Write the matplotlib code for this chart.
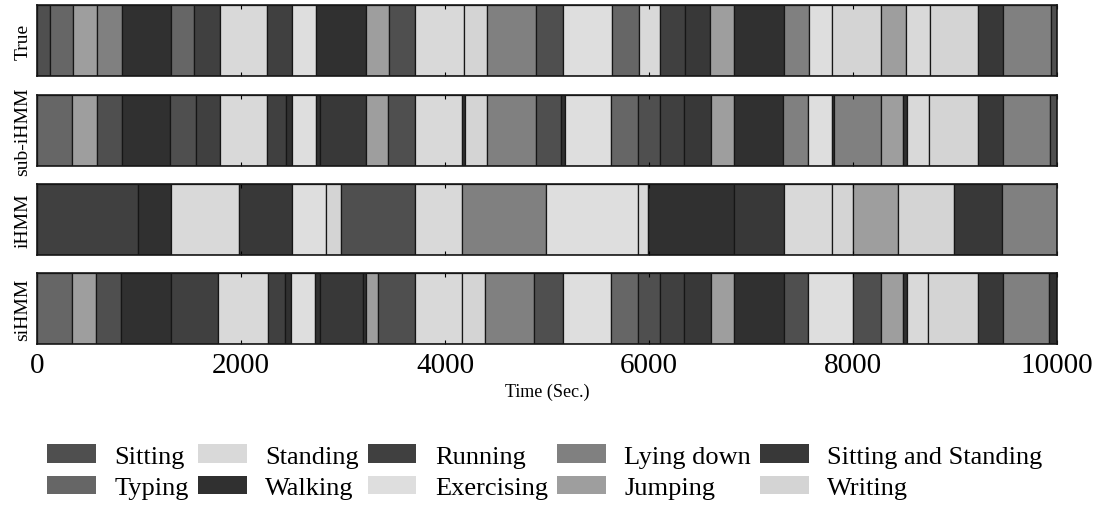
import matplotlib
matplotlib.use("Agg")
import matplotlib.pyplot as plt
from matplotlib.patches import Patch

# activity classes (legend order, column-major as matplotlib fills it)
activities = ["Sitting", "Typing", "Standing", "Walking", "Running",
              "Exercising", "Lying down", "Jumping",
              "Sitting and Standing", "Writing"]
grays = [0.31, 0.40, 0.85, 0.19, 0.25, 0.87, 0.50, 0.62, 0.22, 0.83]

rows = ["True", "sub-iHMM", "iHMM", "siHMM"]

# segment boundaries (s) and the activity held in each segment
true_edges = [0, 123, 353, 586, 832, 1312, 1538, 1791, 2253, 2497, 2736, 3229,
              3452, 3702, 4182, 4411, 4890, 5159, 5637, 5903, 6111, 6353, 6602,
              6830, 7322, 7564, 7792, 8273, 8516, 8758, 9225, 9467, 9941, 10000]
true_labels = ["Sitting", "Typing", "Jumping", "Lying down", "Walking", "Typing",
               "Running", "Standing", "Running", "Exercising", "Walking", "Jumping",
               "Sitting", "Standing", "Writing", "Lying down", "Sitting",
               "Exercising", "Typing", "Standing", "Running",
               "Sitting and Standing", "Jumping", "Walking", "Lying down",
               "Exercising", "Writing", "Jumping", "Standing", "Writing",
               "Sitting and Standing", "Lying down", "Sitting"]

sub_edges = [0, 346, 586, 832, 1301, 1558, 1791, 2253, 2442, 2497, 2736, 2777,
             3229, 3442, 3702, 4171, 4195, 4411, 4890, 5142, 5176, 5626, 5896,
             6111, 6346, 6609, 6830, 7315, 7557, 7792, 7817, 8273, 8491, 8526,
             8747, 9225, 9467, 9934, 10000]
sub_labels = ["Typing", "Jumping", "Sitting", "Walking", "Sitting", "Running",
              "Standing", "Running", "Walking", "Exercising", "Walking",
              "Sitting and Standing", "Jumping", "Sitting", "Standing", "Walking",
              "Writing", "Lying down", "Sitting", "Walking", "Exercising",
              "Typing", "Sitting", "Running", "Sitting and Standing", "Jumping",
              "Walking", "Lying down", "Exercising", "Walking", "Lying down",
              "Jumping", "Walking", "Standing", "Writing",
              "Sitting and Standing", "Lying down", "Sitting"]

ihmm_edges = [0, 986, 1312, 1983, 2497, 2836, 2979, 3702, 4171, 4993, 5896,
              5990, 6837, 7322, 7792, 7997, 8440, 8990, 9460, 10000]
ihmm_labels = ["Running", "Walking", "Standing", "Sitting and Standing",
               "Exercising", "Writing", "Sitting", "Standing", "Lying down",
               "Exercising", "Standing", "Walking", "Sitting and Standing",
               "Standing", "Writing", "Jumping", "Writing",
               "Sitting and Standing", "Lying down"]

sihmm_edges = [0, 346, 575, 825, 1312, 1774, 2264, 2435, 2486, 2726, 2774, 3195,
               3229, 3342, 3702, 4171, 4394, 4873, 5159, 5626, 5896, 6104, 6346,
               6612, 6830, 7322, 7557, 7997, 8273, 8491, 8526, 8740, 9225, 9467,
               9917, 10000]
sihmm_labels = ["Typing", "Jumping", "Sitting", "Walking", "Running", "Standing",
                "Running", "Walking", "Exercising", "Walking",
                "Sitting and Standing", "Walking", "Jumping", "Sitting",
                "Standing", "Writing", "Lying down", "Sitting", "Exercising",
                "Typing", "Sitting", "Running", "Sitting and Standing", "Jumping",
                "Walking", "Sitting", "Exercising", "Sitting", "Jumping",
                "Walking", "Standing", "Writing", "Sitting and Standing",
                "Lying down", "Walking"]

row_edges = [true_edges, sub_edges, ihmm_edges, sihmm_edges]
row_labels = [true_labels, sub_labels, ihmm_labels, sihmm_labels]

plt.rcParams["font.family"] = ["Liberation Serif", "DejaVu Serif"]
color_of = {a: str(g) for a, g in zip(activities, grays)}

fig = plt.figure(figsize=(10.94, 5.06), dpi=100)
left, right = 37 / 1094, 1057 / 1094
tops = [6, 96, 185, 274]
h = 71
axes = []
for i, name in enumerate(rows):
    ax = fig.add_axes([left, 1 - (tops[i] + h) / 506, right - left, h / 506])
    edges, labels = row_edges[i], row_labels[i]
    spans = [(edges[k], edges[k + 1] - edges[k]) for k in range(len(labels))]
    ax.broken_barh(spans, (0, 1), facecolors=[color_of[l] for l in labels],
                   edgecolor="#161616", linewidth=0.9)
    ax.set_xlim(0, 10000)
    ax.set_ylim(0, 1)
    ax.set_yticks([])
    ax.set_xticks([0, 2000, 4000, 6000, 8000, 10000])
    ax.tick_params(axis="x", direction="in", top=True, length=3, width=0.8,
                   labelsize=21, pad=6)
    ax.set_ylabel(name, fontsize=14, labelpad=4)
    for s in ax.spines.values():
        s.set_linewidth(1.2)
        s.set_color("#161616")
    if i < len(rows) - 1:
        ax.tick_params(labelbottom=False)
    axes.append(ax)

axes[-1].set_xlabel("Time (Sec.)", fontsize=13, labelpad=3)

handles = [Patch(facecolor=color_of[a], edgecolor="none") for a in activities]
fig.legend(handles, activities, loc="upper center", ncol=5,
           bbox_to_anchor=(0.498, 0.146), frameon=False, fontsize=19,
           handlelength=1.85, handleheight=0.7, handletextpad=0.7,
           columnspacing=0.34, labelspacing=0.3, borderpad=0)

fig.savefig("out.png", dpi=100)
